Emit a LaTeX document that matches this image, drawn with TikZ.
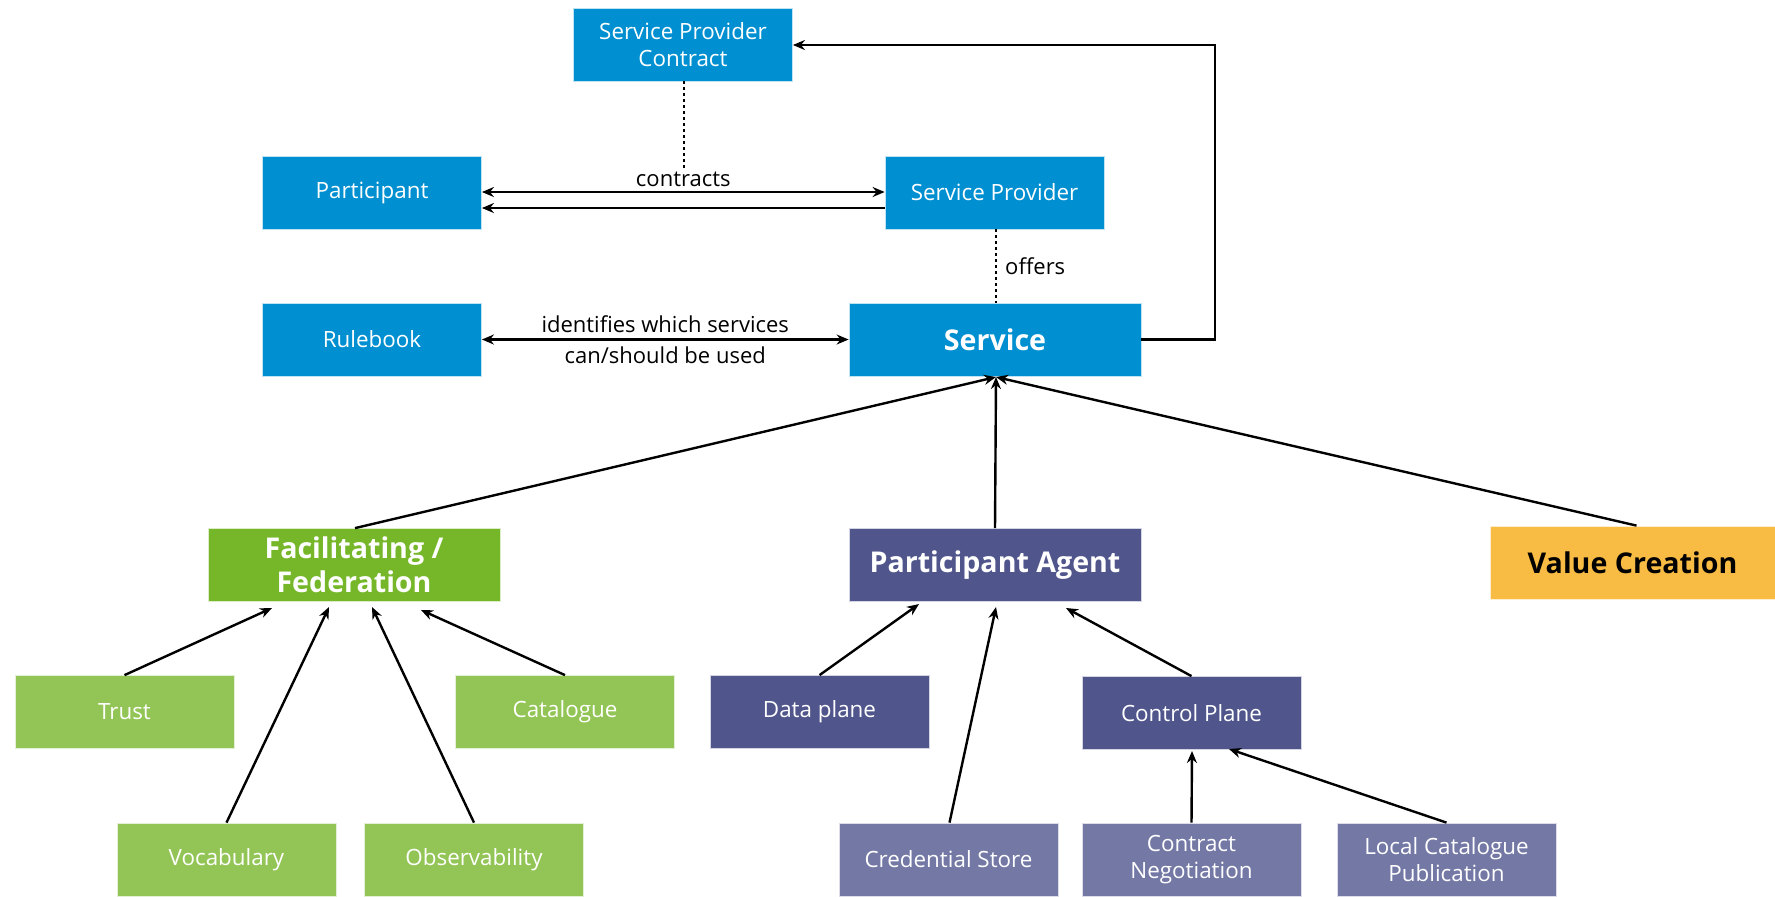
\documentclass[tikz,border=0pt]{standalone}
\usepackage{fontspec}
\setmainfont{Open Sans}
\usetikzlibrary{arrows.meta}
\definecolor{cblue}{HTML}{008FD0}
\definecolor{gdark}{HTML}{76B72A}
\definecolor{glight}{HTML}{92C555}
\definecolor{pdark}{HTML}{50568C}
\definecolor{plight}{HTML}{7378A5}
\definecolor{cyellow}{HTML}{F8BB43}
\tikzset{
  box/.style={draw=white!75!#1, line width=0.4pt, fill=#1, text=white, minimum width=109.5pt, minimum height=36.5pt, inner sep=0pt, align=center, font=\fontsize{11.2}{13.5}\selectfont},
  bigbox/.style={box=#1, font=\fontsize{14.3}{17}\selectfont\bfseries},
  conn/.style={line width=1.2pt, -{Stealth[length=6pt,width=5pt]}},
  dconn/.style={line width=1.2pt, {Stealth[length=6pt,width=5pt]}-{Stealth[length=6pt,width=5pt]}},
  dots/.style={line width=1.2pt, dash pattern=on 1.3pt off 1.7pt},
  lbl/.style={font=\fontsize{11}{13}\selectfont, text=black, inner sep=1pt}
}
\begin{document}
\begin{tikzpicture}[x=0.5pt,y=-0.5pt]
\useasboundingbox (0,0) rectangle (1775,896);
% top nodes
\node[box=cblue] (spc) at (683,44.5) {Service Provider\\Contract};
\node[box=cblue] (part) at (372,192.5) {Participant};
\node[box=cblue] (sp) at (994.5,192.5) {Service Provider};
\node[box=cblue] (rule) at (372,339.5) {Rulebook};
\node[bigbox=cblue, minimum width=146pt] (serv) at (995,339.5) {Service};
% middle
\node[bigbox=gdark, minimum width=146pt] (fac) at (354,565) {Facilitating /\\Federation};
\node[bigbox=pdark, minimum width=146pt] (pa) at (995,565) {Participant Agent};
\node[bigbox=cyellow, minimum width=142.5pt, text=black] (vc) at (1632.5,562.5) {Value Creation};
% lower
\node[box=glight] (trust) at (124.5,712) {Trust};
\node[box=glight] (cat) at (565,712) {Catalogue};
\node[box=pdark] (dp) at (819.5,712) {Data plane};
\node[box=pdark] (cp) at (1191.5,713) {Control Plane};
% bottom
\node[box=glight] (voc) at (226.5,859.5) {Vocabulary};
\node[box=glight] (obs) at (474,859.5) {Observability};
\node[box=plight] (cs) at (948.5,859.5) {Credential Store};
\node[box=plight] (cn) at (1191.5,859.5) {Contract\\Negotiation};
\node[box=plight] (lcp) at (1446.5,859.5) {Local Catalogue\\Publication};
% target coordinates
\coordinate (servb) at (996,377);
\coordinate (facT) at (272,608);
\coordinate (facV) at (329,607);
\coordinate (facO) at (372,607);
\coordinate (facC) at (421,610);
\coordinate (paD) at (919,604);
\coordinate (paC) at (996,607);
\coordinate (paP) at (1066,608);
\coordinate (cpN) at (1192,751);
\coordinate (cpL) at (1229,749);
\coordinate (rt) at (1215,339.5);
\coordinate (rtt) at (1215,45);
\coordinate (dotend) at (684,169);
% top connectors
\draw[line width=1.2pt, -{Stealth[length=6pt,width=5pt]}] (serv.east |- rt) -- (rt) -- (rtt) -- (spc.east |- rtt);
\draw[dots] (spc.south -| dotend) -- (dotend);
\draw[dconn] (part.east |- 0,192) -- node[lbl, above=1pt] {contracts} (sp.west |- 0,192);
\draw[conn] (sp.west |- 0,208) -- (part.east |- 0,208);
\draw[dots] (sp.south -| servb) -- node[lbl, right=3pt] {offers} (serv.north -| servb);
\draw[dconn] (rule.east) -- node[lbl, above=2pt] {identifies which services} node[lbl, below=2pt] {can/should be used} (serv.west);
% to Service
\draw[conn] (fac.north) ++(1,0) -- (servb);
\draw[conn] (pa.north) -- (servb);
\draw[conn] (vc.north) ++(4,0) -- (servb);
% to Facilitating
\draw[conn] (trust.north) -- (facT);
\draw[conn] (voc.north) -- (facV);
\draw[conn] (obs.north) -- (facO);
\draw[conn] (cat.north) -- (facC);
% to Participant Agent
\draw[conn] (dp.north) -- (paD);
\draw[conn] (cs.north) ++(1,0) -- (paC);
\draw[conn] (cp.north) -- (paP);
% to Control Plane
\draw[conn] (cn.north) -- (cpN);
\draw[conn] (lcp.north) -- (cpL);
\end{tikzpicture}
\end{document}
